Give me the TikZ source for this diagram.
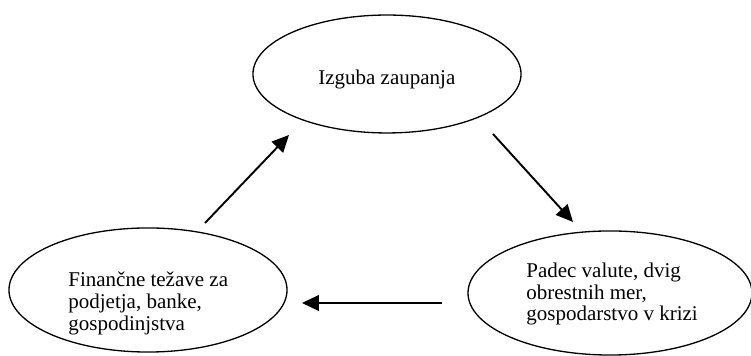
\documentclass[tikz,border=0pt]{standalone}
\usepackage{fontspec}
\setmainfont{Liberation Serif}
\usetikzlibrary{shapes.geometric,arrows.meta}

\tikzstyle{cycle-bubble}=[ellipse, draw, line width=0.75pt, inner sep=0pt]
\tikzstyle{cycle-text}=[inner sep=0pt, align=left, font=\fontsize{12}{12.4}\selectfont]
\tikzstyle{cycle-arrow}=[line width=1.1pt, -{Triangle[length=9.7pt, width=9pt]}]

\begin{document}
\begin{tikzpicture}[x=0.5715pt, y=-0.5715pt]
      \useasboundingbox (0,0) rectangle (751,356);

      \node (cycle-trust) at (387,74) [cycle-bubble, minimum width=153.2pt, minimum height=67.4pt] {};
      \node (cycle-currency) at (610,293) [cycle-bubble, minimum width=162.3pt, minimum height=70.9pt] {};
      \node (cycle-finance) at (148,290) [cycle-bubble, minimum width=158.9pt, minimum height=70.9pt] {};

      \node (text-trust) at (318,85) [cycle-text, anchor=base west] {Izguba zaupanja};
      \node (text-currency) at (526,294) [cycle-text, anchor=west] {Padec valute, dvig\\obrestnih mer,\\gospodarstvo v krizi};
      \node (text-finance) at (68,303.5) [cycle-text, anchor=west] {Finančne težave za\\podjetja, banke,\\gospodinjstva};

      \coordinate (trust-out) at (493,134);
      \coordinate (currency-in) at (573,222);
      \coordinate (currency-out) at (442,303);
      \coordinate (finance-in) at (302,303);
      \coordinate (finance-out) at (205,223);
      \coordinate (trust-in) at (289,135);

      \draw [cycle-arrow] (trust-out) -- (currency-in);
      \draw [cycle-arrow] (currency-out) -- (finance-in);
      \draw [cycle-arrow] (finance-out) -- (trust-in);
    \end{tikzpicture}
\end{document}
